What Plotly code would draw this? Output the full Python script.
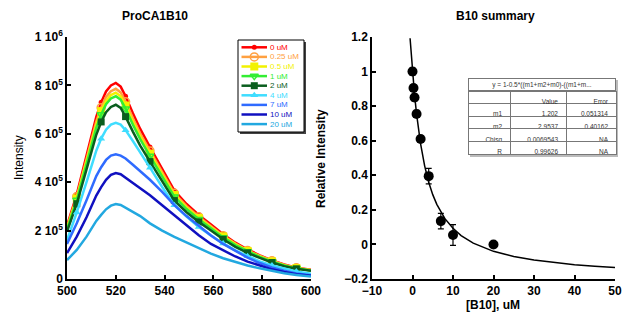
import plotly.graph_objects as go

# ---------------- data ----------------
wavelength = [500, 504, 508, 512, 514, 516, 518, 520, 522, 524, 527, 530, 534, 539,
              544, 549, 554, 559, 564, 569, 574, 579, 584, 589, 594, 600]
marker_wl = [504, 514, 524, 534, 544, 554, 564, 574, 584, 594]

conc_labels = ["0 uM", "0.25 uM", "0.5 uM", "1 uM", "2 uM", "4 uM", "7 uM", "10 uM", "20 uM"]

# intensities in units of 1e5
I_0 = [2.2, 3.5, 5.1, 6.7, 7.3, 7.75, 8.0, 8.1, 7.95, 7.55, 6.85, 6.2, 5.45, 4.55,
       3.65, 3.1, 2.65, 2.25, 1.85, 1.5, 1.22, 0.98, 0.77, 0.6, 0.47, 0.38]
I_025 = [2.13, 3.4, 4.95, 6.5, 7.08, 7.52, 7.76, 7.86, 7.71, 7.32, 6.64, 6.01, 5.29, 4.41,
         3.54, 3.01, 2.57, 2.18, 1.79, 1.46, 1.18, 0.95, 0.75, 0.58, 0.46, 0.37]
I_05 = [2.09, 3.33, 4.85, 6.37, 6.94, 7.36, 7.6, 7.7, 7.55, 7.17, 6.51, 5.89, 5.18, 4.32,
        3.47, 2.95, 2.52, 2.14, 1.76, 1.43, 1.16, 0.93, 0.73, 0.57, 0.45, 0.36]
I_1 = [2.05, 3.26, 4.75, 6.24, 6.8, 7.22, 7.46, 7.55, 7.41, 7.04, 6.38, 5.78, 5.08, 4.24,
       3.4, 2.89, 2.47, 2.1, 1.72, 1.4, 1.14, 0.91, 0.72, 0.56, 0.44, 0.35]
I_2 = [1.96, 3.11, 4.53, 5.96, 6.49, 6.89, 7.11, 7.2, 7.07, 6.71, 6.09, 5.51, 4.85, 4.04,
       3.24, 2.76, 2.36, 2.0, 1.64, 1.33, 1.08, 0.87, 0.68, 0.53, 0.42, 0.34]
I_4 = [1.6, 2.75, 4.0, 5.3, 5.8, 6.17, 6.38, 6.45, 6.38, 6.15, 5.7, 5.25, 4.6, 3.8,
       3.05, 2.58, 2.15, 1.8, 1.47, 1.18, 0.94, 0.73, 0.56, 0.42, 0.31, 0.22]
I_7 = [1.45, 2.3, 3.25, 4.25, 4.62, 4.92, 5.1, 5.15, 5.1, 4.98, 4.72, 4.45, 4.1, 3.6,
       3.05, 2.6, 2.2, 1.8, 1.45, 1.15, 0.88, 0.66, 0.48, 0.34, 0.23, 0.15]
I_10 = [1.07, 1.75, 2.55, 3.45, 3.8, 4.1, 4.3, 4.38, 4.33, 4.2, 3.97, 3.75, 3.46, 3.05,
        2.63, 2.2, 1.81, 1.45, 1.18, 0.93, 0.72, 0.55, 0.4, 0.29, 0.2, 0.13]
I_20 = [0.78, 1.2, 1.75, 2.4, 2.65, 2.88, 3.03, 3.1, 3.06, 2.95, 2.8, 2.6, 2.3, 2.0,
        1.74, 1.5, 1.27, 1.05, 0.86, 0.7, 0.56, 0.44, 0.33, 0.24, 0.17, 0.1]
spectra = [I_0, I_025, I_05, I_1, I_2, I_4, I_7, I_10, I_20]

y_tickvals = [0, 2e5, 4e5, 6e5, 8e5, 1e6]
y_ticktext = ["0", "2 10<sup>5</sup>", "4 10<sup>5</sup>", "6 10<sup>5</sup>",
              "8 10<sup>5</sup>", "1 10<sup>6</sup>"]

# summary
b10_conc = [0, 0.25, 0.5, 1, 2, 4, 7, 10, 20]
rel_int = [1.0, 0.905, 0.85, 0.755, 0.61, 0.395, 0.135, 0.055, 0.0]
rel_err = [0.02, 0.02, 0.02, 0.02, 0.02, 0.045, 0.045, 0.06, 0.01]
fit_x = [-0.6, -0.4, -0.2, 0, 0.5, 1, 2, 3, 4, 5, 6, 8, 10, 12, 15, 20, 25, 30, 35, 40, 45, 50]
fit_y = [1.1925, 1.124, 1.06, 1.0, 0.867, 0.755, 0.581, 0.4545, 0.36, 0.288, 0.232, 0.149,
         0.093, 0.0515, 0.0074, -0.04, -0.07, -0.0906, -0.1057, -0.117, -0.126, -0.1335]

table_title = "y = 1-0.5*((m1+m2+m0)-((m1+m..."
table_header = ["", "Value", "Error"]
table_params = ["m1", "m2", "Chisq", "R"]
table_values = ["1.202", "2.9537", "0.0069543", "0.99626"]
table_errors = ["0.051314", "0.40162", "NA", "NA"]

# ---------------- styles ----------------
colors = ["#FF0000", "#FFA040", "#F2F200", "#33EE33", "#0A5E1E", "#3FDDFF", "#2F6BFF", "#1010C0", "#22A8E0"]
symbols = ["circle", "circle-open", "square", "triangle-down-open", "square", "triangle-up", None, None, None]
msizes = [5, 8, 8, 7, 7, 7, 0, 0, 0]

W, H = 624, 324
FONT = "Arial, Liberation Sans, sans-serif"


def px(x):
    return x / W


def py(y):
    return 1 - y / H


fig = go.Figure()

# spectra
for lab, ys, col, sym, ms in zip(conc_labels, spectra, colors, symbols, msizes):
    yv = [v * 1e5 for v in ys]
    fig.add_trace(go.Scatter(x=wavelength, y=yv, mode="lines", line=dict(color=col, width=2.5),
                             showlegend=False, xaxis="x", yaxis="y"))
    if sym:
        mx = [w for w in wavelength if w in marker_wl]
        my = [v for w, v in zip(wavelength, yv) if w in marker_wl]
        if "open" in sym:
            mk = dict(symbol=sym, size=ms, color=col, line=dict(color=col, width=1.5))
        else:
            mk = dict(symbol=sym, size=ms, color=col, line=dict(width=0))
        fig.add_trace(go.Scatter(x=mx, y=my, mode="markers", marker=mk,
                                 showlegend=False, xaxis="x", yaxis="y"))

# manual legend (on hidden axis)
for i, (lab, col, sym, ms) in enumerate(zip(conc_labels, colors, symbols, msizes)):
    ry = 7.3 + 9.6 * i
    fig.add_trace(go.Scatter(x=[3.5, 29], y=[ry, ry], mode="lines", line=dict(color=col, width=2.5),
                             showlegend=False, xaxis="x3", yaxis="y3", hoverinfo="skip"))
    if sym:
        if "open" in sym:
            mk = dict(symbol=sym, size=ms, color=col, line=dict(color=col, width=1.5))
        else:
            mk = dict(symbol=sym, size=ms, color=col, line=dict(width=0))
        fig.add_trace(go.Scatter(x=[16.3], y=[ry], mode="markers", marker=mk,
                                 showlegend=False, xaxis="x3", yaxis="y3", hoverinfo="skip"))
    fig.add_annotation(x=30, y=ry, xref="x3", yref="y3", text=lab, showarrow=False,
                       xanchor="left", yanchor="middle", font=dict(family=FONT, size=8, color=col))

# summary plot
fig.add_trace(go.Scatter(x=fit_x, y=fit_y, mode="lines", line=dict(color="black", width=1.5),
                         showlegend=False, xaxis="x2", yaxis="y2"))
fig.add_trace(go.Scatter(x=b10_conc, y=rel_int, mode="markers",
                         marker=dict(symbol="circle", size=10, color="black"),
                         error_y=dict(type="data", array=rel_err, color="black", thickness=1.2, width=3),
                         showlegend=False, xaxis="x2", yaxis="y2"))

# table
fig.add_trace(go.Table(
    domain=dict(x=[px(468), px(616)], y=[py(155), py(91)]),
    columnwidth=[42, 56, 50],
    header=dict(values=table_header, height=12.6, align="right",
                fill=dict(color="white"), line=dict(color="#777777", width=1),
                font=dict(family=FONT, size=6.5, color="#333333")),
    cells=dict(values=[table_params, table_values, table_errors], height=12.6, align="right",
               fill=dict(color="white"), line=dict(color="#777777", width=1),
               font=dict(family=FONT, size=6.5, color="#333333")),
))

shapes = [
    # legend shadow + box
    dict(type="rect", xref="paper", yref="paper", x0=px(240), x1=px(306), y0=py(134), y1=py(42),
         fillcolor="#444444", line=dict(width=0), layer="below"),
    dict(type="rect", xref="paper", yref="paper", x0=px(238), x1=px(304), y0=py(132), y1=py(40),
         fillcolor="white", line=dict(color="black", width=1), layer="below"),
    # table shadow
    dict(type="rect", xref="paper", yref="paper", x0=px(470), x1=px(618), y0=py(157), y1=py(80),
         fillcolor="#BBBBBB", line=dict(width=0), layer="below"),
]
fig.update_layout(shapes=shapes)

# table title row
fig.add_annotation(x=px(542), y=py(84.5), xref="paper", yref="paper", text=table_title,
                   showarrow=False, xanchor="center", yanchor="middle", width=146, height=11,
                   bgcolor="white", bordercolor="#777777", borderwidth=1, borderpad=0,
                   font=dict(family=FONT, size=6.5, color="#333333"))


# titles
def label(x, y, text, bold=True, angle=0):
    fig.add_annotation(x=px(x), y=py(y), xref="paper", yref="paper", text=text, showarrow=False,
                       xanchor="center", yanchor="middle", textangle=angle,
                       font=dict(family=FONT, size=12, color="black",
                                 weight="bold" if bold else "normal"))


label(155, 16, "ProCA1B10")
label(495, 16, "B10 summary")
label(19, 158, "Intensity", bold=False, angle=-90)
label(321, 158, "Relative Intensity", angle=-90)
label(493, 305, "[B10], uM")

tickfont = dict(family=FONT, size=12, color="black", weight="bold")
axis_common = dict(showline=True, linecolor="black", linewidth=1.5, ticks="inside", ticklen=4,
                   tickwidth=1.5, tickcolor="black", showgrid=False, zeroline=False, tickfont=tickfont,
                   mirror=False, automargin=False)

fig.update_layout(
    width=W, height=H,
    margin=dict(l=0, r=0, t=0, b=0, pad=0, autoexpand=False),
    paper_bgcolor="white", plot_bgcolor="rgba(0,0,0,0)",
    showlegend=False,
    xaxis=dict(domain=[px(67), px(311)], range=[500, 600], tickvals=[500, 520, 540, 560, 580, 600],
               anchor="y", **axis_common),
    yaxis=dict(domain=[py(279), py(37)], range=[0, 1e6], tickvals=y_tickvals, ticktext=y_ticktext,
               anchor="x", **axis_common),
    xaxis2=dict(domain=[px(372), px(615)], range=[-10, 50], dtick=10, tick0=0, anchor="y2", **axis_common),
    yaxis2=dict(domain=[py(279), py(37)], range=[-0.2, 1.2], dtick=0.2, tick0=0, anchor="x2",
                **axis_common),
    xaxis3=dict(domain=[px(238), px(304)], range=[0, 66], visible=False, anchor="y3"),
    yaxis3=dict(domain=[py(132), py(40)], range=[92, 0], visible=False, anchor="x3"),
)

fig.write_html("out.html", config={"displayModeBar": False},
               post_script="document.body.style.margin='0';document.body.style.overflow='hidden';")
